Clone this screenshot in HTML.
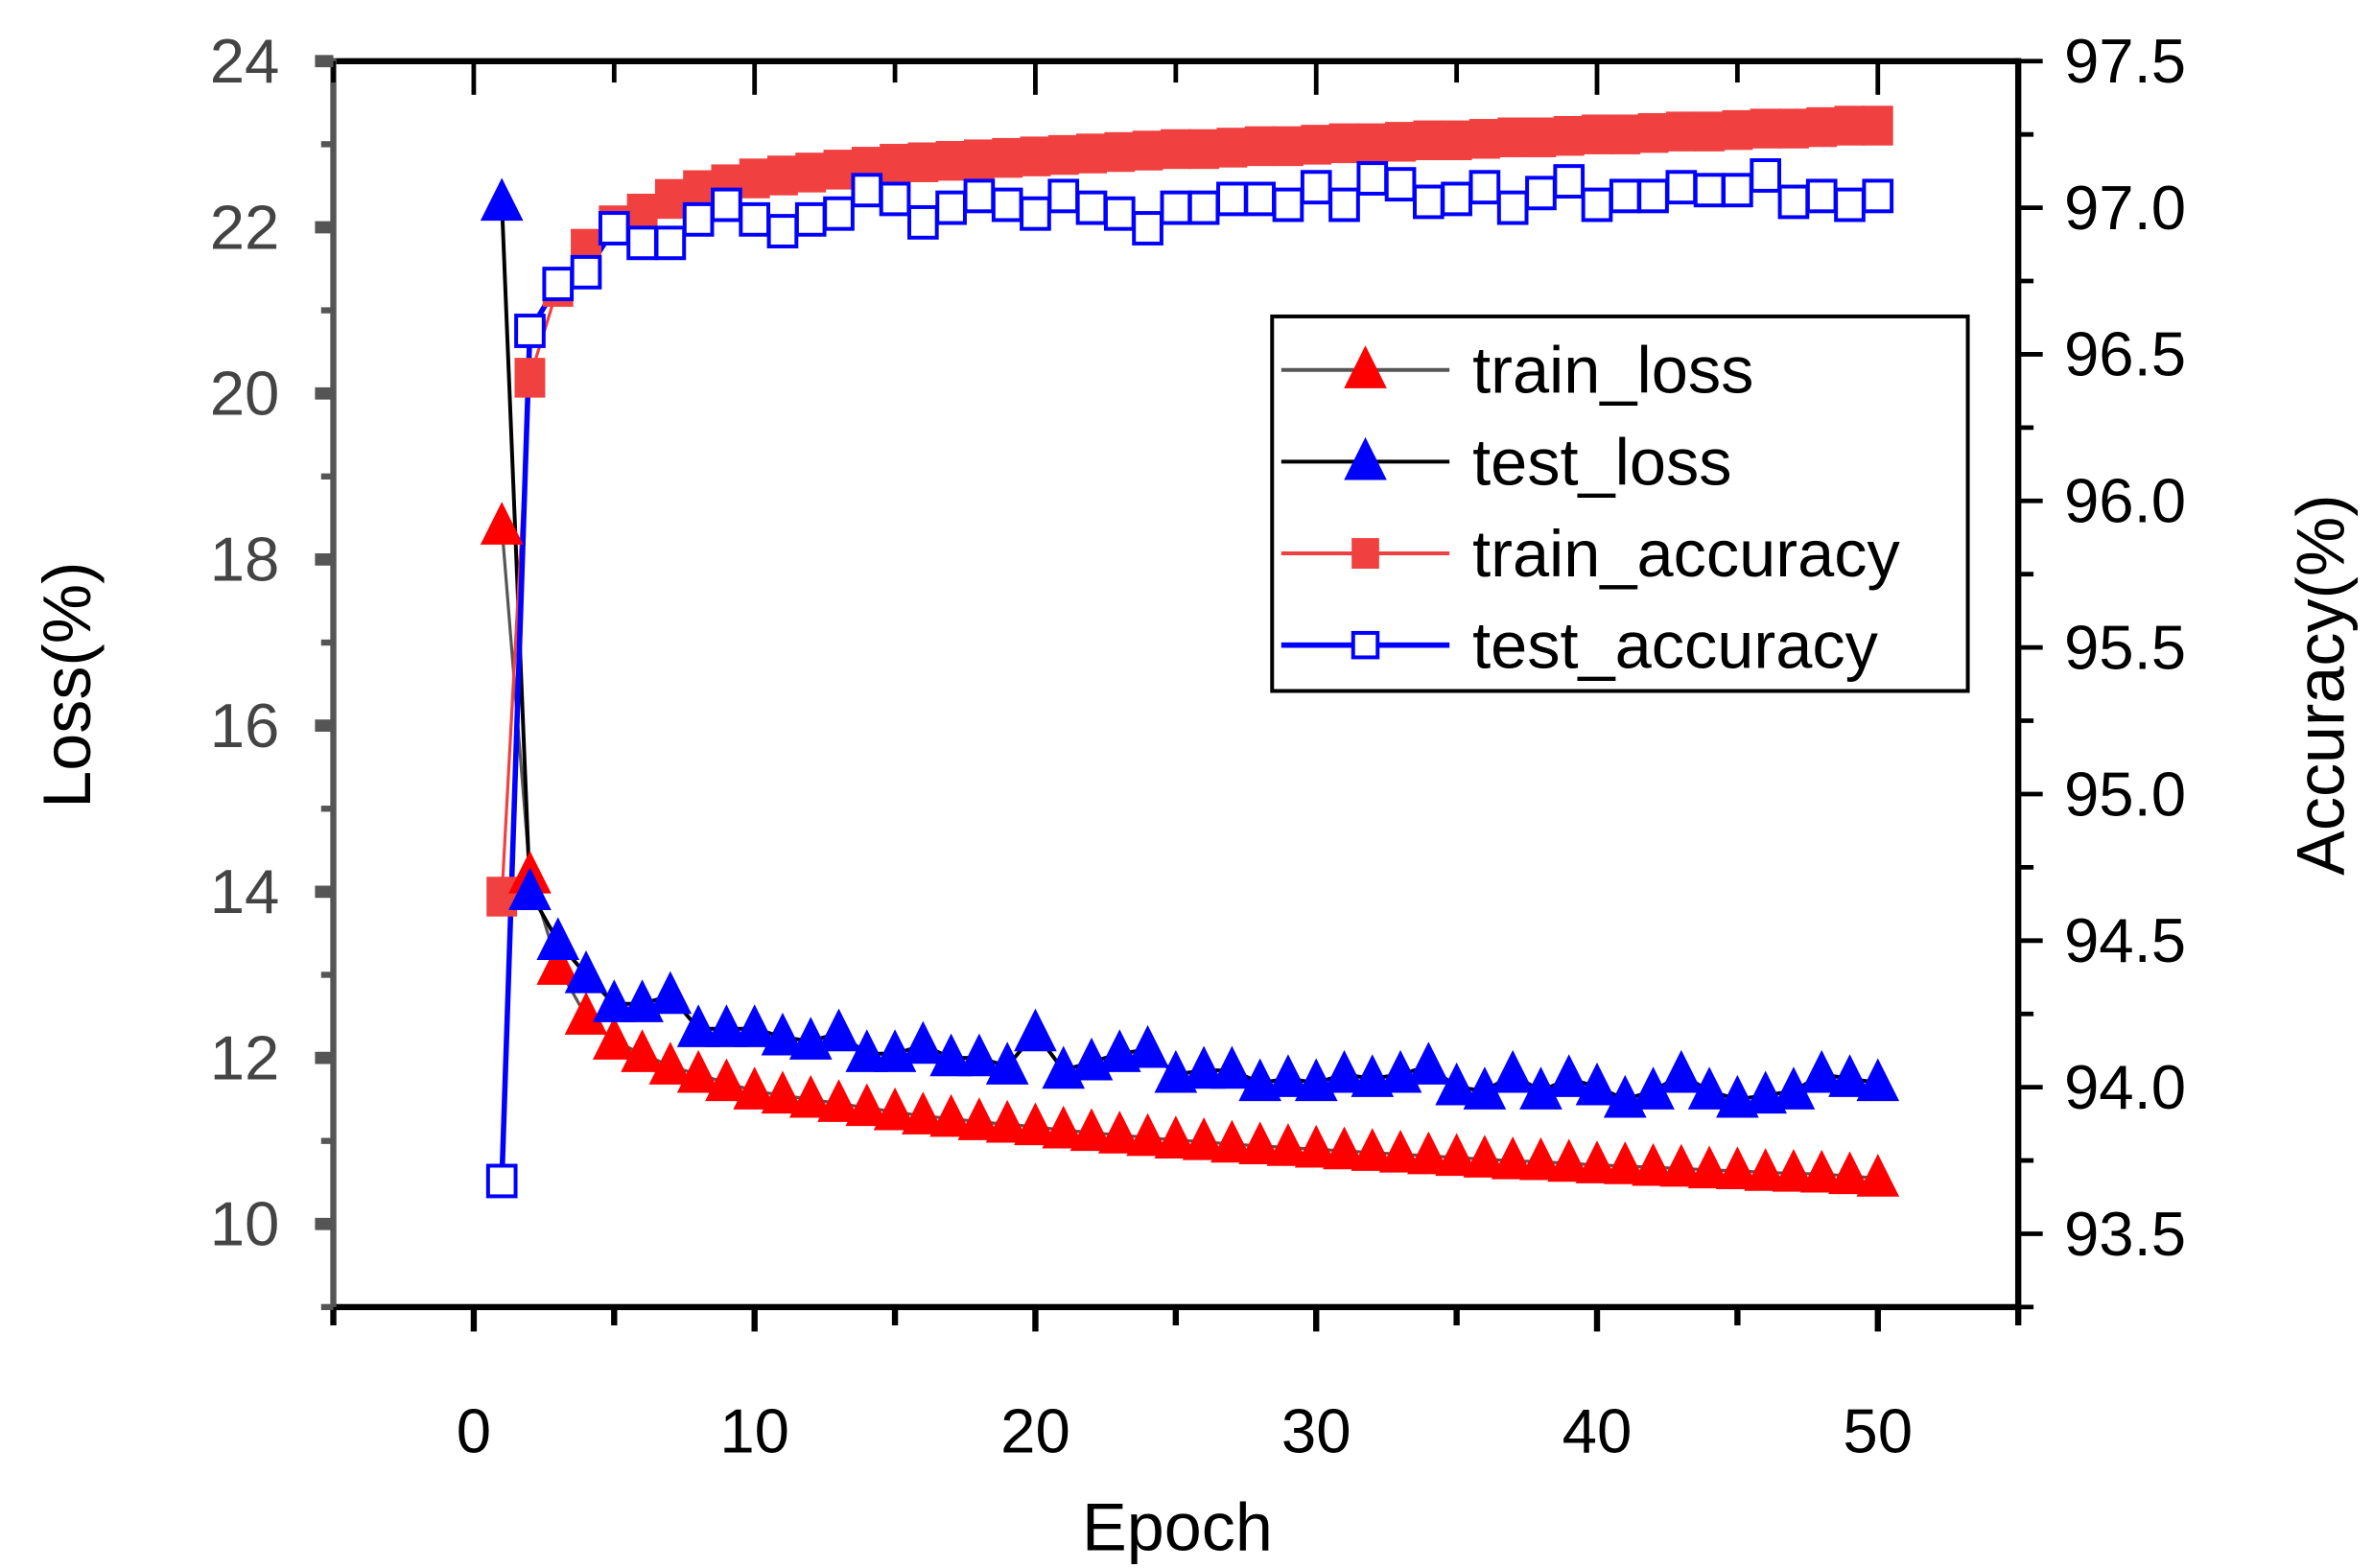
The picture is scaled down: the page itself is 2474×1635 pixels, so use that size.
<!DOCTYPE html>
<html><head><meta charset="utf-8"><style>
html,body{margin:0;padding:0;background:#fff;}
svg{display:block;font-family:"Liberation Sans",Arial,sans-serif;}
</style></head><body>
<svg id="chart" width="2474" height="1635" viewBox="0 0 1552 1025.7" xmlns="http://www.w3.org/2000/svg">
<g id="axes"></g><g id="series"></g><g id="legend"></g>
</svg>
<script>
const epochs = Array.from({length:50},(_,i)=>i+1);
const trainLoss = [18.4,14.2,13.1,12.5,12.2,12.05,11.9,11.8,11.7,11.6,11.55,11.5,11.45,11.4,11.35,11.3,11.27,11.23,11.2,11.17,11.13,11.1,11.07,11.04,11.01,10.99,10.96,10.94,10.92,10.9,10.88,10.86,10.84,10.82,10.8,10.78,10.76,10.75,10.73,10.71,10.7,10.68,10.67,10.65,10.64,10.62,10.61,10.6,10.58,10.55];
const testLoss = [22.3,14.0,13.4,13.0,12.65,12.65,12.75,12.35,12.35,12.35,12.25,12.2,12.3,12.05,12.05,12.15,12.0,12.0,11.9,12.3,11.85,11.95,12.05,12.1,11.8,11.85,11.85,11.7,11.75,11.7,11.8,11.75,11.8,11.9,11.65,11.6,11.8,11.6,11.75,11.65,11.5,11.6,11.8,11.6,11.5,11.55,11.6,11.8,11.75,11.7];
const trainAcc = [94.65,96.42,96.73,96.86,96.94,96.98,97.03,97.06,97.08,97.10,97.11,97.12,97.13,97.14,97.15,97.155,97.16,97.165,97.17,97.175,97.18,97.185,97.19,97.195,97.2,97.2,97.205,97.21,97.21,97.215,97.22,97.22,97.225,97.23,97.23,97.235,97.24,97.24,97.245,97.25,97.25,97.255,97.26,97.26,97.265,97.27,97.27,97.275,97.28,97.28];
const testAcc = [93.68,96.58,96.74,96.78,96.93,96.88,96.88,96.96,97.01,96.96,96.92,96.96,96.98,97.06,97.03,96.95,97.0,97.04,97.01,96.98,97.04,97.0,96.98,96.93,97.0,97.0,97.03,97.03,97.01,97.07,97.01,97.1,97.08,97.02,97.03,97.07,97.0,97.05,97.09,97.01,97.04,97.04,97.07,97.06,97.06,97.11,97.02,97.04,97.01,97.04];
const xTicks = [0,10,20,30,40,50];
const lossTicks = [10,12,14,16,18,20,22,24];
const accTicks = ["93.5","94.0","94.5","95.0","95.5","96.0","96.5","97.0","97.5"];

const L=218,R=1320,T=40,B=855;
const xS=e=>L+(e+5)/60*(R-L);
const yL=v=>B-(v-9)/15*(B-T);
const yR=a=>B-(a-93.25)/4.25*(B-T);
const NS="http://www.w3.org/2000/svg";
function mk(tag,attrs,parent,text){const el=document.createElementNS(NS,tag);for(const k in attrs)el.setAttribute(k,attrs[k]);if(text!==undefined)el.textContent=text;parent.appendChild(el);return el;}
const ax=document.getElementById('axes'), se=document.getElementById('series'), lg=document.getElementById('legend');

let f;
f=mk('line',{x1:L,y1:T,x2:R,y2:T,stroke:'#000','stroke-width':4},ax);

f=mk('line',{x1:L,y1:B,x2:R,y2:B,stroke:'#000','stroke-width':4},ax);

f=mk('line',{x1:L,y1:T-2,x2:L,y2:B+2,stroke:'#555','stroke-width':4},ax);

f=mk('line',{x1:R,y1:T-2,x2:R,y2:B+2,stroke:'#000','stroke-width':4},ax);


for(let e=-5;e<=55;e+=5){const x=xS(e);const maj=(e%10===0);
 mk('line',{x1:x,y1:B,x2:x,y2:B+(maj?16:12),stroke:'#000','stroke-width':4},ax);
 mk('line',{x1:x,y1:T,x2:x,y2:T+(maj?22:14),stroke:'#000','stroke-width':3},ax);}
xTicks.forEach(v=>{const t=mk('text',{x:xS(v),y:950,'text-anchor':'middle','font-size':41,fill:'#000'},ax,String(v));
 });
for(let v=9;v<=24;v++){const y=yL(v);const maj=(v%2===0);
 mk('line',{x1:L,y1:y,x2:L-(maj?12:8),y2:y,stroke:'#555','stroke-width':maj?8:4},ax);}
lossTicks.forEach(v=>{const t=mk('text',{x:160,y:yL(v)+14,'text-anchor':'middle','font-size':41,fill:'#444'},ax,String(v));
 });
for(let a=93.25;a<=97.51;a+=0.25){const y=yR(a);const maj=Math.abs(a*2-Math.round(a*2))<0.01;
 mk('line',{x1:R,y1:y,x2:R+(maj?16:10),y2:y,stroke:'#000','stroke-width':3},ax);}
accTicks.forEach(s=>{const t=mk('text',{x:1350,y:yR(parseFloat(s))+14,'font-size':41,fill:'#000'},ax,s);
 });
let tt=mk('text',{x:770,y:1014,'text-anchor':'middle','font-size':44,fill:'#000'},ax,'Epoch');

tt=mk('text',{x:0,y:0,'text-anchor':'middle','font-size':44,fill:'#000',transform:'translate(59,448) rotate(-90)'},ax,'Loss(%)');

tt=mk('text',{x:0,y:0,'text-anchor':'middle','font-size':44,fill:'#000',transform:'translate(1533,448) rotate(-90)'},ax,'Accuracy(%)');


function tri(cx,cy,fill,p){return mk('polygon',{points:`${cx},${cy-16} ${cx-14},${cy+12} ${cx+14},${cy+12}`,fill:fill},p);}
function line(vals,yf,color,w,name){const pts=vals.map((v,i)=>xS(epochs[i])+','+yf(v)).join(' ');
 const l=mk('polyline',{points:pts,fill:'none',stroke:color,'stroke-width':w},se);
 }

line(trainLoss,yL,'#555',2,'train-loss-line');
line(testLoss,yL,'#000',2.5,'test-loss-line');
line(trainAcc,yR,'#f04040',2,'train-accuracy-line');
line(testAcc,yR,'#0000ff',3.5,'test-accuracy-line');

trainAcc.forEach((v,i)=>{const r=mk('rect',{x:xS(epochs[i])-10,y:yR(v)-13,width:20,height:26,fill:'#f04040'},se);
 });
testAcc.forEach((v,i)=>{const r=mk('rect',{x:xS(epochs[i])-9,y:yR(v)-10,width:18,height:20,fill:'#fff',stroke:'#0000ff','stroke-width':2.5},se);
 });
trainLoss.forEach((v,i)=>{const p=tri(xS(epochs[i]),yL(v),'#ff0000',se);
 });
testLoss.forEach((v,i)=>{const p=tri(xS(epochs[i]),yL(v),'#0000ff',se);
 });

const box=mk('rect',{x:832,y:207,width:455,height:245,fill:'#fff',stroke:'#000','stroke-width':2.5},lg);

const items=[['train_loss','#555','tri','#ff0000'],['test_loss','#000','tri','#0000ff'],['train_accuracy','#f04040','sq','#f04040'],['test_accuracy','#0000ff','osq','#0000ff']];
items.forEach((it,i)=>{const y=242+i*60;
 const g=mk('g',{},lg);
 
 mk('line',{x1:838,y1:y,x2:948,y2:y,stroke:it[1],'stroke-width':it[2]==='osq'?3.5:2.5},g);
 if(it[2]==='tri')tri(893,y,it[3],g);
 else if(it[2]==='sq')mk('rect',{x:884,y:y-10,width:18,height:20,fill:it[3]},g);
 else mk('rect',{x:885,y:y-8,width:16,height:16,fill:'#fff',stroke:it[3],'stroke-width':2.5},g);
 mk('text',{x:963,y:y+15,'font-size':43,fill:'#000'},g,it[0]);});
</script>
</body></html>
